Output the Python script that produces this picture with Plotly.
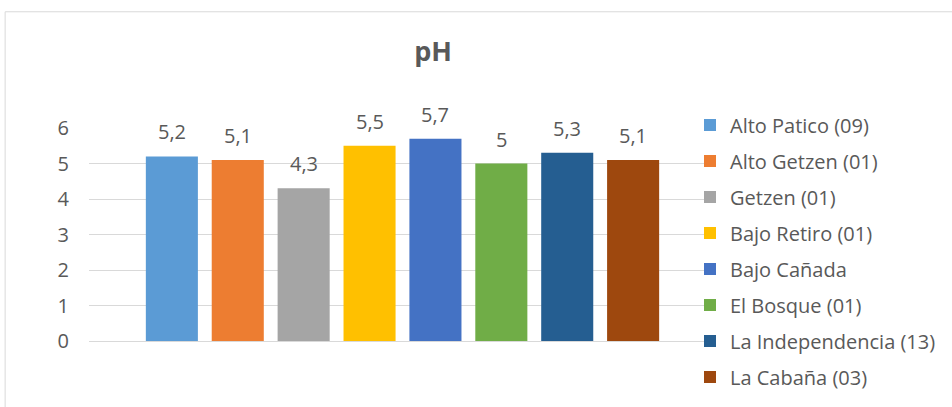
import plotly.graph_objects as go

# Sampling sites and their measured pH
sites = [
    "Alto Patico (09)",
    "Alto Getzen (01)",
    "Getzen (01)",
    "Bajo Retiro (01)",
    "Bajo Cañada",
    "El Bosque (01)",
    "La Independencia (13)",
    "La Cabaña (03)",
]
ph_values = [5.2, 5.1, 4.3, 5.5, 5.7, 5.0, 5.3, 5.1]
colors = ["#5B9BD5", "#ED7D31", "#A5A5A5", "#FFC000",
          "#4472C4", "#70AD47", "#255E91", "#9E480E"]
y_ticks = [0, 1, 2, 3, 4, 5, 6]

TEXT = "#595959"
GRID = "#D9D9D9"
FONT = "Open Sans"
FS = 20


def fmt(v):
    # decimal comma, no trailing ",0"
    return f"{v:g}".replace(".", ",")


W, H = 952, 407
left, right, top, bottom = 89, 707, 127.5, 341

fig = go.Figure()
for name, v, c in zip(sites, ph_values, colors):
    fig.add_trace(go.Bar(
        x=[name], y=[v], name=name,
        marker=dict(color=c, line=dict(width=0)),
        width=0.79, legendgroup=name,
        hoverinfo="name+y",
    ))
    fig.add_annotation(
        x=name, y=v, text=fmt(v), showarrow=False,
        yanchor="bottom", yshift=9,
        font=dict(family=FONT, size=FS, color=TEXT),
    )

plot_w = right - left
plot_h = bottom - top


def px_x(p):
    return (p - left) / plot_w


def px_y(p):
    return (bottom - p) / plot_h


# light frame around the chart
fig.add_shape(type="rect", xref="paper", yref="paper",
              x0=px_x(5), x1=px_x(1000), y0=px_y(11), y1=px_y(450),
              line=dict(color=GRID, width=1), fillcolor="rgba(0,0,0,0)",
              layer="below")

fig.update_layout(
    width=W, height=H,
    margin=dict(l=left, r=W - right, t=top, b=H - bottom, pad=0),
    paper_bgcolor="white", plot_bgcolor="white",
    barmode="overlay",
    font=dict(family=FONT, color=TEXT),
    title=dict(text="<b>pH</b>", x=433 / W, xanchor="center",
               y=1 - 52 / H, yanchor="middle",
               font=dict(family=FONT, size=27, color=TEXT)),
    xaxis=dict(
        categoryorder="array", categoryarray=sites,
        range=[-(172 - left) / 66, (right - 172) / 66],
        showticklabels=False, showgrid=False, zeroline=False,
        showline=False, ticks="",
    ),
    yaxis=dict(
        range=[0, 6], tickvals=y_ticks,
        ticktext=[str(t) for t in y_ticks],
        showgrid=True, gridcolor=GRID, gridwidth=1,
        zeroline=True, zerolinecolor=GRID, zerolinewidth=1,
        showline=False, ticks="",
        ticklabelstandoff=19,
        tickfont=dict(family=FONT, size=FS, color=TEXT),
    ),
    legend=dict(
        x=px_x(690), xanchor="left",
        y=px_y(105), yanchor="top",
        font=dict(family=FONT, size=FS, color=TEXT),
        bgcolor="rgba(0,0,0,0)", borderwidth=0,
        tracegroupgap=7, traceorder="grouped",
        maxheight=400,
    ),
    showlegend=True,
)

fig.write_html("out.html")
